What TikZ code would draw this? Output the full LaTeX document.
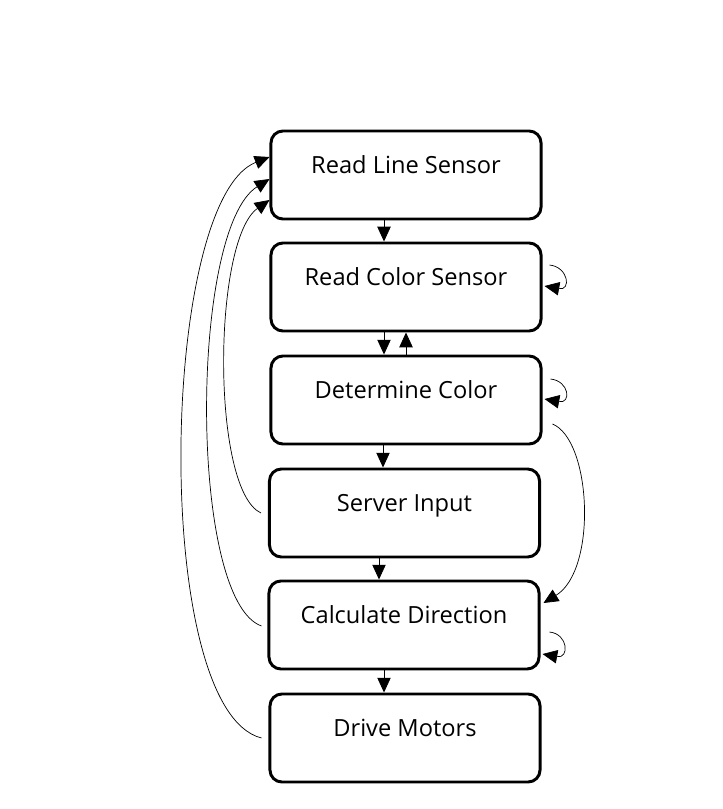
\documentclass[tikz,border=0pt]{standalone}
\usepackage{fontspec}
\setmainfont{Open Sans}
\usetikzlibrary{arrows.meta, positioning}

\begin{document}
\begin{tikzpicture}[
  x=0.025cm, y=-0.025cm,
  box/.style={draw, line width=2.1pt, rounded corners=8.5pt, minimum width=6.75cm,
              minimum height=2.2cm, text height=10pt, text depth=11.8pt,
              font=\fontsize{16.8}{20}\selectfont},
  arr/.style={-{Triangle[length=10.5pt, width=9.5pt]}, line width=0.6pt},
  loop/.style={-{Triangle[length=10.5pt, width=9.5pt]}, line width=0.5pt}
]
  \useasboundingbox (0,0) rectangle (723,809);

  \node[box] (line)  at (406,175)   {Read Line Sensor};
  \node[box] (color) at (406,287)   {Read Color Sensor};
  \node[box] (det)   at (406,400)   {Determine Color};
  \node[box] (srv)   at (404.5,513) {Server Input};
  \node[box] (calc)  at (404,625)   {Calculate Direction};
  \node[box] (drive) at (405,738)   {Drive Motors};

  % main chain
  \draw[arr] ([shift={(-22,0)}]line.south)  -- ([shift={(-22,0)}]color.north);
  \draw[arr] ([shift={(-22,0)}]color.south) -- ([shift={(-22,0)}]det.north);
  \draw[arr] (det.north) -- (color.south);
  \draw[arr] ([shift={(-23,0)}]det.south)   -- ([shift={(-21.5,0)}]srv.north);
  \draw[arr] ([shift={(-25.5,0)}]srv.south) -- ([shift={(-25,0)}]calc.north);
  \draw[arr] ([shift={(-20,0)}]calc.south)  -- ([shift={(-21,0)}]drive.north);

  % self loops
  \draw[loop] ([shift={(7,-22)}]color.east) .. controls +(19,2) and +(27,5) .. ([shift={(2,-1)}]color.east);
  \draw[loop] ([shift={(8,-21)}]det.east) .. controls +(19,2) and +(27,5) .. ([shift={(2,-1)}]det.east);
  \draw[loop] ([shift={(9,7)}]calc.east) .. controls +(19,2) and +(27,5) .. ([shift={(2,29)}]calc.east);

  % determine -> calculate
  \draw[loop] ([shift={(10,24)}]det.east) .. controls +(39,16) and +(54,-33) .. ([shift={(3,-22)}]calc.east);

  % back to line sensor
  \draw[loop] ([shift={(-7,0)}]srv.west) .. controls +(-50,-23) and +(-57,40) .. ([shift={(0,25)}]line.west);
  \draw[loop] ([shift={(-6,1)}]calc.west) .. controls +(-73,-26) and +(-80,50) .. ([shift={(0,4)}]line.west);
  \draw[loop] ([shift={(-7,0)}]drive.west) .. controls +(-111,-28) and +(-110,43) .. ([shift={(0,-18)}]line.west);
\end{tikzpicture}
\end{document}
